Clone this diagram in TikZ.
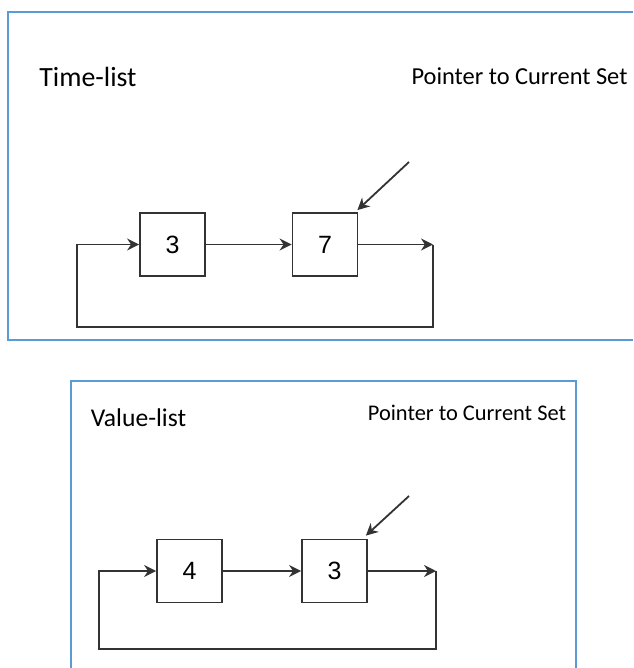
\documentclass[tikz,border=0pt]{standalone}
\usepackage{fontspec}
\setmainfont{Carlito}
\newfontfamily\digitfont{Liberation Sans}
\usepackage{tikz}
\usetikzlibrary{arrows.meta}
\usepackage{xcolor}

\definecolor{framebl}{RGB}{91,155,213}

\begin{document}
\begin{tikzpicture}[x=0.5pt,y=-0.5pt,
    cell/.style={draw=black!80,line width=0.9pt,minimum width=32.5pt,minimum height=31.5pt,
        inner sep=0pt,font=\digitfont\fontsize{12.5}{14}\selectfont},
    link/.style={draw=black!80,line width=0.9pt,-{Stealth[length=6pt,width=6pt]}},
    frame/.style={draw=framebl,line width=1.1pt}]
    \useasboundingbox (0,0) rectangle (633,668);

    % Time-list frame (runs off the right edge)
    \draw[frame] (633,12) -- (8,12) -- (8,340) -- (633,340);
    \node[font=\fontsize{13.9}{16}\selectfont] (tname) at (88,77) {Time-list};
    \node[font=\fontsize{12.2}{14}\selectfont] (tptr) at (519.5,76) {Pointer to Current Set};

    \node[cell] (t3) at (172.5,244.5) {3};
    \node[cell] (t7) at (325,244.5) {7};
    \coordinate (tR) at (433,244.5);
    \coordinate (tL) at (77,244.5);
    \coordinate (tP) at (409,162);

    \draw[link] (t3) -- (t7);
    \draw[link] (t7) -- (tR);
    \draw[link] (tR) -- ++(0,82.5) -| (tL) -- (t3);
    \draw[link] (tP) -- ([shift={(-1,-2)}]t7.north east);

    % Value-list frame (runs off the bottom edge)
    \draw[frame] (71,668) -- (71,381) -- (576,381) -- (576,668);
    \node[font=\fontsize{12.8}{15}\selectfont] (vname) at (138.5,418) {Value-list};
    \node[font=\fontsize{11.2}{13}\selectfont] (vptr) at (467,413) {Pointer to Current Set};

    \node[cell] (v4) at (189.5,571) {4};
    \node[cell] (v3) at (334.5,571) {3};
    \coordinate (vR) at (436,571);
    \coordinate (vL) at (99,571);
    \coordinate (vP) at (409,496);

    \draw[link] (v4) -- (v3);
    \draw[link] (v3) -- (vR);
    \draw[link] (vR) -- ++(0,78) -| (vL) -- (v4);
    \draw[link] (vP) -- ([shift={(-2,-3)}]v3.north east);
\end{tikzpicture}
\end{document}
